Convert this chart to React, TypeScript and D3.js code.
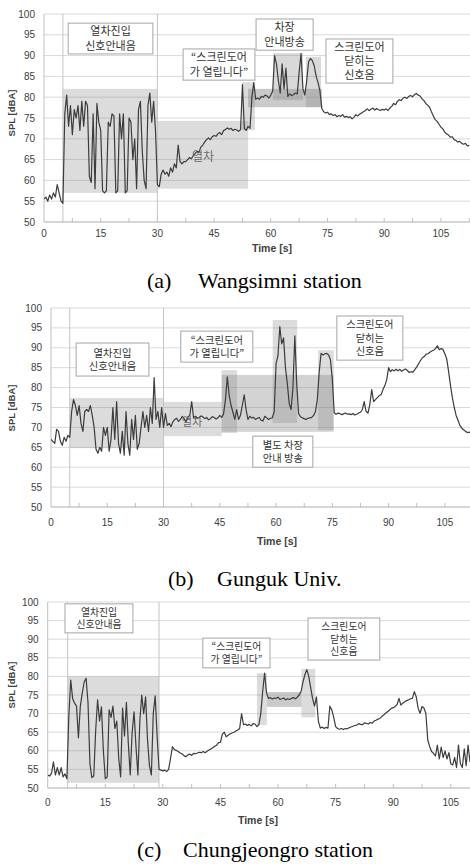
import React from "react";
import * as d3 from "d3";

// sampling interval of the SPL traces (s)
const STEP = 0.5;

const splTicks = [50, 55, 60, 65, 70, 75, 80, 85, 90, 95, 100];
const timeTicks = [0, 15, 30, 45, 60, 75, 90, 105];

// (a) Wangsimni station, SPL [dBA] every 0.5 s
const splWangsimni = [
  55.5, 56, 55, 56.5, 55.5, 57, 56, 59, 57, 55, 54.5,
  76, 80.5, 73, 78, 71, 77, 75, 78, 72, 79, 73, 79, 78, 61, 59.5, 76, 58, 78.5, 74,
  72, 57.5, 57, 57.5, 74, 73, 76, 75.5, 57, 57.5, 76, 70, 76, 57, 57.5, 75, 74, 65,
  70, 58, 77, 79, 67, 60, 58, 78, 81, 74, 79, 72, 59, 58.5,
  61.5, 62.5, 61.5, 62, 61, 63, 62, 64, 63, 68.5, 64.5, 64, 64.5, 64.5, 65, 65.5,
  65.2, 66, 66.5, 67, 66.8, 68, 68.5, 69.2, 69.8, 70.2, 69.8, 70.5, 70.8, 70.6,
  71.2, 71.5, 71, 72, 72.2, 72.6, 72.3, 72.5, 72, 72.3, 72.1, 71.8, 72.2, 83, 72.5,
  72, 73, 72.5, 80, 83.5, 79.5, 79.8, 79.5, 80.2, 80, 80.5, 80.3, 79.8, 80.5, 81.5,
  90, 88, 84, 81, 88, 82, 87, 80.2, 80.8, 80.4, 80.6, 81, 80.8, 86, 90.5, 82, 80.5,
  84, 88.5, 89.3, 88.8, 87.5, 85, 83.5, 81.5, 77.3, 76.5, 76.2, 76.4, 75.8, 76,
  75.6, 75.8, 75.3, 75.6, 75.4, 75.8, 75.2, 75.4, 75.1, 75.3, 74.8, 75.2, 75.8,
  75.5, 75.9, 76.2, 76.5, 76.8, 77.2, 76.8, 77.1, 77.4, 76.9, 77.3, 77, 76.8, 77.1,
  76.9, 77.2, 76.8, 77.4, 77.8, 78.5, 78.2, 79, 79.4, 79.2, 79.8, 80, 79.7, 80.2,
  80.4, 80.1, 80.6, 80.9, 80.5, 80.3, 79.6, 79.2, 78.5, 78.1, 77.6, 76.5, 75.5,
  74.6, 74.2, 73.5, 72.8, 72.4, 71.6, 71.2, 70.9, 70.4, 70.5, 69.8, 69.6, 69.2,
  69.4, 68.9, 68.7, 68.9, 68.3, 68.4,
];

// (b) Gunguk Univ.
const splGunguk = [
  67, 66.5, 66, 69.5, 69, 66.5, 65.5, 67.5, 66.5, 68, 67.5,
  74, 77, 75.5, 73, 75.5, 71, 69, 74, 74.5, 74, 75.5, 73, 70, 64.5, 63.5, 65, 64,
  70, 68, 70, 64, 67, 75, 67, 76.5, 66, 63.5, 69, 63, 74, 66, 63, 72, 67, 73, 64.5,
  66, 70, 74, 70, 73, 69, 75, 71, 82.5, 72, 74, 70, 75, 70,
  73.5, 70.5, 71, 70.2, 71.4, 72, 72.3, 71.5, 72, 72.8, 72.2, 71.4, 72.6, 73, 76.5,
  72.5, 72.8, 72.3, 72.5, 72.9, 72.6, 72.2, 72.5, 71.9, 72.2, 72.7, 72.5, 72.1,
  72.4, 73, 72.5, 73.4, 76.9, 82.7, 78, 75.5, 73.8, 72, 74.5, 72, 73, 75.5, 78.2,
  74.5, 72, 72.8, 72.4, 72.5, 72, 72.3, 72.5, 71.8, 71.6, 72.8, 72.4, 72, 72.3,
  72.4, 74, 86, 88, 95.3, 91, 92.5, 85, 81, 76, 74.5, 80, 93, 81, 73.5, 72.7, 72.4,
  72.2, 72, 72.3, 72.4, 72.5, 73, 74, 77, 84, 88.6, 88.2, 88.5, 88.6, 88.2, 87, 82,
  73.7, 73.3, 73.6, 73.5, 73.2, 73.4, 73.6, 73.3, 73.4, 73.2, 73.5, 73.1, 73.3,
  73.6, 73.8, 74.5, 76.5, 74, 73.6, 75.8, 79.5, 76.5, 77, 77.5, 78, 78.2, 79.5,
  80.5, 82, 85, 84, 84.5, 84.2, 84.6, 84.2, 84.6, 84.1, 84.4, 84.7, 84.3, 83.8, 84,
  83.9, 84.5, 85.2, 86, 86.8, 87.5, 87.8, 88.4, 88.5, 88.9, 89.2, 89.4, 89.8, 90.5,
  89.5, 89.8, 89.6, 88.5, 87.2, 84, 80.5, 77.5, 75, 73, 71.8, 70.5, 69.8, 69.4, 69,
  68.7, 68.8, 68.5,
];

// (c) Chungjeongro station
const splChungjeongro = [
  53.5, 53.2, 54, 57, 53.5, 55.5, 53.5, 55.5, 53, 53.8, 52.5,
  69.2, 79, 74, 72.8, 72, 63.5, 72, 75.5, 78.5, 79.5, 73, 56.5, 52.8, 53.2, 65.5,
  73.7, 68, 71.8, 60, 52.5, 53, 71, 69, 72, 66, 68, 58, 53, 71.5, 64, 73, 62, 53.5,
  65, 70.5, 61, 53.5, 68, 75, 70, 74.5, 63, 56, 53.5, 70, 74.8, 64, 55, 54.8,
  54.6, 54.8, 54.4, 55, 58, 61.1, 60.3, 60.1, 59.8, 59.4, 59.2, 58.7, 58.4, 58.9,
  59.1, 58.8, 59.3, 59.2, 59.4, 59.6, 59.5, 59.8, 59.5, 59.9, 60.2, 60.5, 60.8,
  61.2, 61.5, 62.2, 62.3, 64.5, 65, 63.8, 64.2, 64.5, 64.8, 65, 65.3, 65.6, 66, 70,
  67, 67.2, 66.8, 67.1, 66.7, 67.3, 67.2, 66.5, 67, 70, 76, 80.9, 75.5, 74.1, 74.3,
  73.9, 74.2, 74.1, 74.4, 73.8, 74, 74.2, 73.7, 74, 73.8, 74.1, 74.3, 74, 74.4, 75,
  76, 78.5, 80.5, 81.8, 80, 77, 74, 72, 74.5, 68, 66.1, 66.4, 66, 66.3, 66.1, 72, 71,
  69, 66.5, 66, 65.8, 66, 65.7, 66, 65.9, 66.2, 66.4, 66.6, 66.8, 66.9, 67.3, 67.1,
  67, 67.5, 67.4, 67.2, 67.6, 67.4, 68, 68.2, 68.5, 68.7, 69.2, 69.6, 70.1, 70.5,
  70.9, 71.4, 71.6, 71.9, 72.4, 74.1, 72.3, 72.8, 73.2, 73.5, 73.7, 74, 74.1, 75.9,
  74.5, 71.4, 70.1, 71.9, 71.5, 70.1, 62.9, 61.1, 59.8, 59.3, 58.6, 61.5, 57.8, 61,
  58.2, 60, 57.8, 59.5, 56.5, 56.2, 58.2, 55.5, 61.5, 56.5, 55.5, 60.5, 56, 61.5, 57,
];

// shaded event windows: time span [s] and level span [dBA]
const shadesWangsimni = [
  { t0: 5, t1: 30, v0: 57, v1: 82, tone: 0.28 },
  { t0: 30, t1: 54, v0: 58, v1: 74.3, tone: 0.28 },
  { t0: 52.4, t1: 55.8, v0: 72.1, v1: 83.6, tone: 0.28 },
  { t0: 54, t1: 73.5, v0: 77.6, v1: 82, tone: 0.42 },
  { t0: 60.6, t1: 68.5, v0: 79.3, v1: 90.6, tone: 0.3 },
  { t0: 69.3, t1: 73.3, v0: 77.6, v1: 89.7, tone: 0.3 },
];
const shadesGunguk = [
  { t0: 5, t1: 30, v0: 64.8, v1: 77.4, tone: 0.28 },
  { t0: 30, t1: 45.5, v0: 67.8, v1: 76.4, tone: 0.28 },
  { t0: 45.5, t1: 49.6, v0: 68.6, v1: 84.4, tone: 0.28 },
  { t0: 45.5, t1: 75.3, v0: 68.9, v1: 83.2, tone: 0.35 },
  { t0: 59.1, t1: 65.6, v0: 71.1, v1: 97, tone: 0.28 },
  { t0: 71.2, t1: 75.4, v0: 69.3, v1: 89.4, tone: 0.28 },
];
const shadesChungjeongro = [
  { t0: 5.2, t1: 29, v0: 51.4, v1: 80, tone: 0.28 },
  { t0: 54.5, t1: 57.1, v0: 66.9, v1: 80.9, tone: 0.28 },
  { t0: 57.1, t1: 66.1, v0: 71.8, v1: 75.8, tone: 0.42 },
  { t0: 66.1, t1: 69.7, v0: 69, v1: 82, tone: 0.28 },
];

const notesWangsimni = [
  { lines: ["열차진입", "신호안내음"], t0: 6.4, t1: 28.8, v0: 90.4, v1: 97.8 },
  { lines: ["“스크린도어", "가 열립니다”"], t0: 36.8, t1: 55.8, v0: 84.1, v1: 91.6 },
  { lines: ["차장", "안내방송"], t0: 56.1, t1: 71.2, v0: 91.3, v1: 98.8 },
  { lines: ["스크린도어", "닫히는", "신호음"], t0: 74.6, t1: 92.3, v0: 83.4, v1: 94 },
];
const notesGunguk = [
  { lines: ["열차진입", "신호안내음"], t0: 6.7, t1: 26.1, v0: 82.9, v1: 91.2 },
  { lines: ["“스크린도어", "가 열립니다”"], t0: 34.6, t1: 53.8, v0: 86.4, v1: 94.2 },
  { lines: ["스크린도어", "닫히는", "신호음"], t0: 76.2, t1: 93.8, v0: 86.9, v1: 98 },
  { lines: ["별도 차장", "안내 방송"], t0: 53.8, t1: 69.8, v0: 60, v1: 67.8 },
];
const notesChungjeongro = [
  { lines: ["열차진입", "신호안내음"], t0: 4.5, t1: 22.2, v0: 91.7, v1: 99.5 },
  { lines: ["“스크린도어", "가 열립니다”"], t0: 40.4, t1: 57.9, v0: 82.3, v1: 90.3 },
  { lines: ["스크린도어", "닫히는", "신호음"], t0: 67.8, t1: 86.5, v0: 84.4, v1: 95.7 },
];

const panels = [
  {
    id: "a", spl: splWangsimni, shades: shadesWangsimni, notes: notesWangsimni,
    train: { t: 42.1, v: 65.6 }, markers: [5, 30], tMax: 112.7,
    left: 44, right: 470, top: 14, bottom: 222,
    font: 11, tickY: 237, timeX: 272, timeY: 252, splY: 113,
    tag: "(a)", name: "Wangsimni station", tagX: 147, nameX: 198, capY: 288,
  },
  {
    id: "b", spl: splGunguk, shades: shadesGunguk, notes: notesGunguk,
    train: { t: 37.6, v: 71.4 }, markers: [5, 30], tMax: 111.7,
    left: 51, right: 470, top: 308, bottom: 507,
    font: 10.3, tickY: 526, timeX: 277, timeY: 545, splY: 408,
    tag: "(b)", name: "Gunguk Univ.", tagX: 168, nameX: 217, capY: 586,
  },
  {
    id: "c", spl: splChungjeongro, shades: shadesChungjeongro, notes: notesChungjeongro,
    train: null, markers: [5.2, 29], tMax: 110,
    left: 47.7, right: 470, top: 602, bottom: 788,
    font: 9.8, tickY: 806, timeX: 258, timeY: 824, splY: 685,
    tag: "(c)", name: "Chungjeongro station", tagX: 137, nameX: 183, capY: 857,
  },
];

const SANS = "'Liberation Sans', Arial, sans-serif";
const KR = "'Noto Sans CJK KR', sans-serif";
const SERIF = "'Liberation Serif', 'Times New Roman', serif";

const Panel = ({ p }) => {
  const x = d3.scaleLinear().domain([0, p.tMax]).range([p.left, p.right]);
  const y = d3.scaleLinear().domain([50, 100]).range([p.bottom, p.top]);
  const line = d3
    .line()
    .x((d, i) => x(i * STEP))
    .y((d) => y(d));
  const minor = d3.range(7.5, p.tMax, 7.5);
  const lh = p.font * 1.3;

  return (
    <g>
      <defs>
        <clipPath id={`clip-${p.id}`}>
          <rect x={p.left} y={p.top - 2} width={p.right - p.left} height={p.bottom - p.top + 4} />
        </clipPath>
      </defs>

      {/* grid */}
      {splTicks.map((v) => (
        <line key={v} x1={p.left} x2={p.right} y1={y(v)} y2={y(v)} stroke="#d9d9d9" strokeWidth={1} />
      ))}
      <line x1={p.left} x2={p.left} y1={p.top} y2={p.bottom} stroke="#bfbfbf" />
      <line x1={p.left} x2={p.right} y1={p.bottom} y2={p.bottom} stroke="#bfbfbf" />
      {minor.map((t) => (
        <line key={t} x1={x(t)} x2={x(t)} y1={p.bottom} y2={p.bottom - 4} stroke="#bfbfbf" />
      ))}

      {/* event windows */}
      {p.shades.map((s, i) => (
        <rect
          key={i}
          x={x(s.t0)}
          y={y(s.v1)}
          width={x(s.t1) - x(s.t0)}
          height={y(s.v0) - y(s.v1)}
          fill="#808080"
          fillOpacity={s.tone}
        />
      ))}

      {p.markers.map((t) => (
        <line key={t} x1={x(t)} x2={x(t)} y1={p.top} y2={p.bottom} stroke="#c4c4c4" strokeWidth={1} />
      ))}

      {/* ticks */}
      {splTicks.map((v) => (
        <text key={v} x={p.left - 9} y={y(v)} dy="0.35em" textAnchor="end" fontSize={10} fontFamily={SANS} fill="#404040">
          {v}
        </text>
      ))}
      {timeTicks.map((t) => (
        <text key={t} x={x(t)} y={p.tickY} textAnchor="middle" fontSize={10} fontFamily={SANS} fill="#404040">
          {t}
        </text>
      ))}

      {/* trace */}
      <path
        d={line(p.spl)}
        fill="none"
        stroke="#3c3c3c"
        strokeWidth={1.2}
        strokeLinejoin="round"
        clipPath={`url(#clip-${p.id})`}
      />

      {p.train && (
        <text x={x(p.train.t)} y={y(p.train.v)} dy="0.35em" textAnchor="middle" fontSize={p.font + 1} fontFamily={KR} fill="#555" fillOpacity={0.85}>
          열차
        </text>
      )}

      {/* annotation boxes */}
      {p.notes.map((n, i) => {
        const cx = (x(n.t0) + x(n.t1)) / 2;
        const cy = (y(n.v0) + y(n.v1)) / 2;
        return (
          <g key={i}>
            <rect
              x={x(n.t0)}
              y={y(n.v1)}
              width={x(n.t1) - x(n.t0)}
              height={y(n.v0) - y(n.v1)}
              fill="#fff"
              stroke="#a6a6a6"
            />
            {n.lines.map((s, j) => (
              <text
                key={j}
                x={cx}
                y={cy + (j - (n.lines.length - 1) / 2) * lh}
                dy="0.36em"
                textAnchor="middle"
                fontSize={p.font}
                fontFamily={KR}
                fill="#333"
              >
                {s}
              </text>
            ))}
          </g>
        );
      })}

      {/* axis titles */}
      <text
        transform={`translate(12, ${p.splY}) rotate(-90)`}
        dy="0.35em"
        textAnchor="middle"
        fontSize={9.5}
        fontWeight="bold"
        fontFamily={SANS}
        fill="#404040"
      >
        SPL [dBA]
      </text>
      <text x={p.timeX} y={p.timeY} textAnchor="middle" fontSize={10.5} fontWeight="bold" fontFamily={SANS} fill="#404040">
        Time [s]
      </text>

      {/* caption */}
      <text x={p.tagX} y={p.capY} fontSize={22} fontFamily={SERIF} fill="#000">
        {p.tag}
      </text>
      <text x={p.nameX} y={p.capY} fontSize={22} fontFamily={SERIF} fill="#000">
        {p.name}
      </text>
    </g>
  );
};

export default function App() {
  return (
    <svg
      width={470}
      height={868}
      style={{ position: "absolute", left: 0, top: 0, background: "#fff" }}
    >
      <rect width={470} height={868} fill="#fff" />
      {panels.map((p) => (
        <Panel key={p.id} p={p} />
      ))}
    </svg>
  );
}
